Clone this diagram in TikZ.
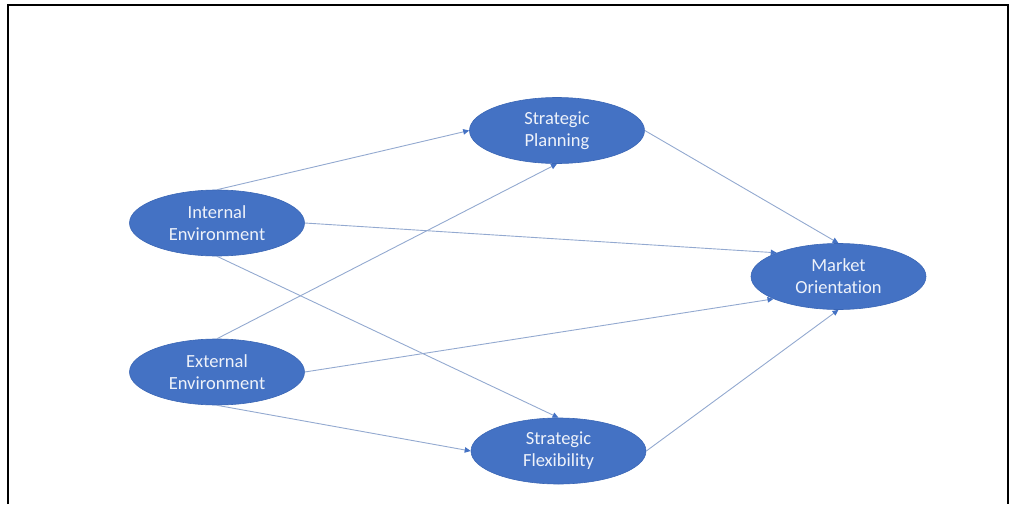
\documentclass[tikz,border=0pt]{standalone}
\usepackage{fontspec}
\setmainfont[Ligatures=NoCommon]{Carlito}
\usetikzlibrary{shapes.geometric,arrows.meta}
\definecolor{nodeblue}{HTML}{4472C4}
\definecolor{nodeedge}{HTML}{3A66B5}
\definecolor{linkcol}{HTML}{93A9D0}
\definecolor{txtcol}{HTML}{EEF2FA}
\tikzset{
  concept/.style={ellipse, fill=nodeblue, draw=nodeedge, line width=0.6pt,
    minimum width=175pt, minimum height=66pt, inner sep=0pt, align=center,
    text=txtcol, font=\fontsize{18.5}{22}\selectfont},
  link/.style={draw=linkcol, line width=0.9pt,
    -{Triangle[length=6pt,width=5.5pt,fill=nodeblue,color=nodeblue]}},
  frame/.style={draw=black, line width=2pt}
}
\begin{document}
\begin{tikzpicture}[x=1pt,y=-1pt]
\useasboundingbox (0,0) rectangle (1010,504);
\draw[frame] (7.5,504) -- (7.5,5) -- (1008,5) -- (1008,504);
\node[concept] (IE) at (217,223) {Internal\\Environment};
\node[concept] (EE) at (217,372) {External\\Environment};
\node[concept] (SP) at (557,130.5) {Strategic\\Planning};
\node[concept] (SF) at (558.5,451) {Strategic\\Flexibility};
\node[concept] (MO) at (838.5,276.5) {Market\\Orientation};
\draw[link] (IE.north) -- (SP.west);
\draw[link] (IE.east) -- (MO.159);
\draw[link] (IE.south) -- (SF.north);
\draw[link] (EE.north) -- (SP.south);
\draw[link] (EE.east) -- (MO.199);
\draw[link] (EE.south) -- (SF.west);
\draw[link] (SP.east) -- (MO.north);
\draw[link] (SF.east) -- (MO.south);
\end{tikzpicture}
\end{document}
